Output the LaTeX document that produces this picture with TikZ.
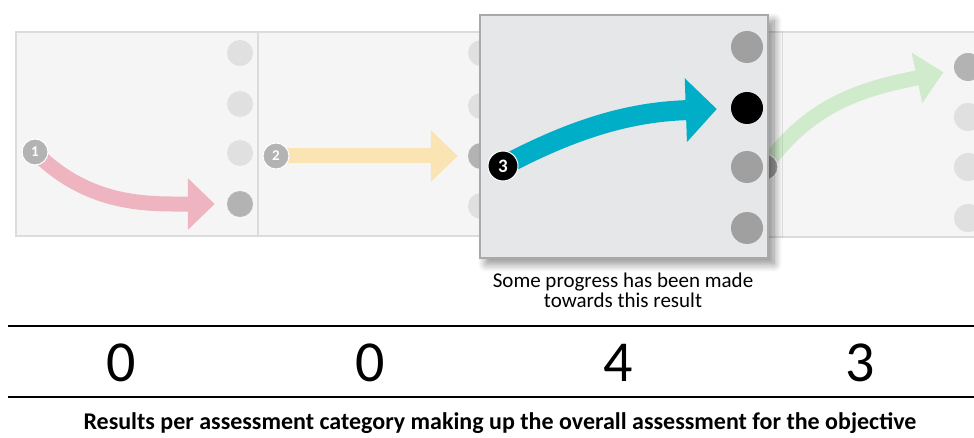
\documentclass[tikz,border=0pt]{standalone}
\usepackage{fontspec}
\setmainfont{Carlito}
\usetikzlibrary{arrows.meta,shadows.blur}

\definecolor{panelfill}{HTML}{F5F5F5}
\definecolor{panelline}{HTML}{DCDCDC}
\definecolor{focusfill}{HTML}{E6E7E8}
\definecolor{focusline}{HTML}{A7A9AC}
\definecolor{dotpale}{HTML}{E0E0E0}
\definecolor{dotdim}{HTML}{B3B3B3}
\definecolor{dotmid}{HTML}{A0A0A0}
\definecolor{arrowpink}{HTML}{EEB5C0}
\definecolor{arrowyellow}{HTML}{FBE4B3}
\definecolor{arrowteal}{HTML}{00AFC7}
\definecolor{arrowgreen}{HTML}{D0EBCB}

\tikzset{
  panel/.style={fill=panelfill,draw=panelline,line width=1.2pt},
  dot/.style={circle,inner sep=0pt,minimum size=#1},
  dot/.default=26pt,
  startnum/.style={circle,inner sep=0pt,minimum size=26pt,fill=dotdim,draw=white,
    line width=1pt,text=white,font=\fontsize{15}{15}\selectfont\bfseries},
  bigarrow/.style={line width=15pt,-{Triangle[length=27pt,width=50pt]}}
}

\begin{document}
\begin{tikzpicture}[x=1pt,y=1pt]
  \useasboundingbox (0,0) rectangle (974,437);

  % panels behind
  \draw[panel] (16,201) rectangle (258,405);
  \draw[panel] (258,201) rectangle (482,405);
  \draw[panel] (766,200) rectangle (976,405);

  % panel 1
  \foreach \n/\y/\c in {1/384/dotpale, 2/333/dotpale, 3/284/dotpale, 4/233/dotdim}
    \node[dot,fill=\c] (pa\n) at (240,\y) {};
  \coordinate (sa) at (35,285);
  \draw[bigarrow,arrowpink,shorten >=12pt] (sa) to[out=-45,in=180] (pa4);
  \node[startnum] (na) at (sa) {1};

  % panel 2
  \foreach \n/\y/\c in {1/384/dotpale, 2/331/dotpale, 3/281/dotdim, 4/231/dotpale}
    \node[dot,fill=\c] (pb\n) at (481,\y) {};
  \coordinate (sb) at (276,281);
  \draw[bigarrow,arrowyellow,shorten >=10pt] (sb) -- (pb3);
  \node[startnum] (nb) at (sb) {2};

  % panel 4
  \foreach \n/\y/\c in {1/370/dotdim, 2/320/dotpale, 3/270/dotpale, 4/219/dotpale}
    \node[dot=28pt,fill=\c] (pd\n) at (968,\y) {};
  \coordinate (sd) at (765,270);
  \draw[bigarrow,arrowgreen,shorten >=11pt] (sd) to[out=55,in=192] (pd1);
  \node[startnum,fill=dotmid] (nd) at (sd) {4};

  % panel 3 in front
  \draw[fill=focusfill,draw=focusline,line width=1.2pt,
    blur shadow={shadow xshift=6pt,shadow yshift=-6pt,shadow blur radius=8pt,
      shadow blur steps=14,shadow opacity=45}]
    (480,179) rectangle (768,422);
  \foreach \n/\y/\c in {1/390/dotmid, 2/329/black, 3/270/dotmid, 4/209/dotmid}
    \node[dot=32pt,fill=\c] (pc\n) at (747,\y) {};
  \coordinate (sc) at (503,271);
  \draw[line width=20pt,arrowteal,-{Triangle[length=31pt,width=62pt]},shorten >=14pt]
    (sc) to[out=28,in=182] (pc2);
  \node[startnum,minimum size=30pt,fill=black,font=\fontsize{19}{19}\selectfont\bfseries]
    (nc) at (sc) {3};

  \node[align=center,font=\fontsize{21}{20}\selectfont] (caption) at (623,147)
    {Some progress has been made\\towards this result};

  % score table
  \draw[line width=1.3pt] (8,111) -- (974,111);
  \draw[line width=1.3pt] (8,40) -- (974,40);
  \foreach \x/\v in {121/0, 370/0, 618/4, 860/3}
    \node[font=\fontsize{58}{58}\selectfont] (score\x) at (\x,74) {\v};
  \node[font=\fontsize{24}{24}\selectfont\bfseries] (footer) at (500,14)
    {Results per assessment category making up the overall assessment for the objective};
\end{tikzpicture}
\end{document}
